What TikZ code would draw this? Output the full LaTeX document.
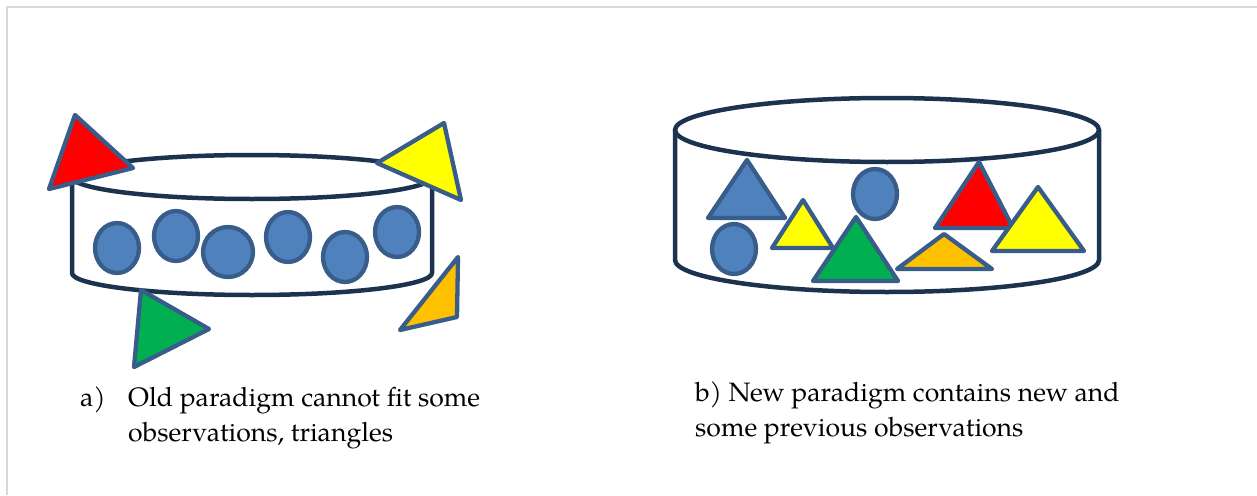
\documentclass[tikz,border=0pt]{standalone}
\usepackage{fontspec}
\setmainfont{TeX Gyre Pagella}
\definecolor{cyl}{HTML}{1C3350}
\definecolor{edge}{HTML}{385D8A}
\definecolor{oblue}{HTML}{4F81BD}
\definecolor{ored}{HTML}{FF0000}
\definecolor{oyellow}{HTML}{FFFF00}
\definecolor{ogreen}{HTML}{00B050}
\definecolor{oorange}{HTML}{FFC000}
\definecolor{frame}{HTML}{D9D9D9}
\tikzset{
  cylline/.style={draw=cyl, line width=4.5pt, line join=round, line cap=round},
  obs/.style={draw=edge, line width=4.3pt, line join=round},
  lbl/.style={anchor=base west, inner sep=0pt, font=\fontsize{26.6}{32}\selectfont}
}
\begin{document}
\begin{tikzpicture}[x=1pt,y=-1pt]
\useasboundingbox (0,0) rectangle (1257,495);
% page frame
\draw[frame, line width=2pt] (7,495) -- (7,7) -- (1257,7);

% ---------- left cylinder ----------
\draw[cylline] (72,177) -- (72,273) arc[start angle=180, end angle=0, x radius=180, y radius=22] -- (432,177);
\draw[cylline, fill=white] (252,177) ellipse[x radius=180, y radius=22];
% circles
\foreach \cx/\cy/\rx/\ry in {117/248/22/25, 176/236/22/25, 228/252/25/25, 288/237/22/25, 345/257/22/25, 397/232/22/25}
  \draw[obs, fill=oblue] (\cx,\cy) ellipse[x radius=\rx, y radius=\ry];
% triangles that do not fit
\draw[obs, fill=ored] (75,115) -- (133,168) -- (49,189) -- cycle;
\draw[obs, fill=oyellow] (444,123) -- (377,163) -- (461,200) -- cycle;
\draw[obs, fill=ogreen] (141,290) -- (209,329) -- (134,367) -- cycle;
\draw[obs, fill=oorange] (458,257) -- (457,317) -- (400,330) -- cycle;

% ---------- right cylinder ----------
\draw[cylline] (675,130) -- (675,260) arc[start angle=180, end angle=0, x radius=212, y radius=32] -- (1099,130);
\draw[cylline] (887,130) ellipse[x radius=212, y radius=32];
\draw[obs, fill=oblue] (747,160) -- (785,218) -- (708,218) -- cycle;
\draw[obs, fill=oblue] (734,249) ellipse[x radius=22, y radius=25];
\draw[obs, fill=oyellow] (803,200) -- (833,248) -- (772,248) -- cycle;
\draw[obs, fill=oblue] (875,194) ellipse[x radius=22, y radius=25];
\draw[obs, fill=ogreen] (856,217) -- (898,281) -- (813,281) -- cycle;
\draw[obs, fill=oorange] (944,234) -- (992,269) -- (897,269) -- cycle;
\draw[obs, fill=ored] (979,162) -- (1013,228) -- (935,228) -- cycle;
\draw[obs, fill=oyellow] (1038,187) -- (1084,251) -- (992,251) -- cycle;

% ---------- captions ----------
\node[lbl] (alab) at (80,406) {a)};
\node[lbl] (a1) at (128,406) {Old paradigm cannot fit some};
\node[lbl] (a2) at (128,441) {observations, triangles};
\node[lbl] (b1) at (695,401) {b) New paradigm contains new and};
\node[lbl] (b2) at (695,436) {some previous observations};
\end{tikzpicture}
\end{document}
